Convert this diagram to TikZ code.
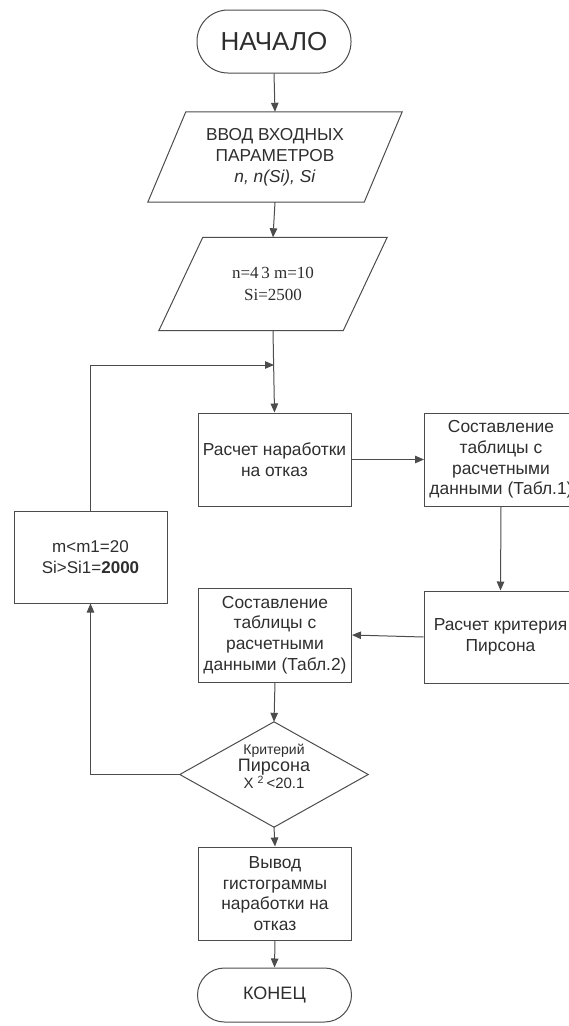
\documentclass[tikz,border=0pt]{standalone}
\usepackage{fontspec}
\setmainfont{Liberation Sans}
\newfontfamily\numserif{Liberation Serif}
\usetikzlibrary{arrows.meta,calc}
\definecolor{linec}{gray}{0.30}
\definecolor{textc}{gray}{0.18}
\begin{document}
\begin{tikzpicture}[x=1pt,y=-1pt,
  every node/.style={text=textc},
  stepbox/.style={draw=linec, line width=1pt, rectangle, minimum width=153pt,
    minimum height=93pt, align=center, inner sep=1pt,
    font=\fontsize{17.4}{20.8}\selectfont},
  termbox/.style={draw=linec, line width=1pt, rectangle, minimum width=154pt,
    align=center, inner sep=0pt},
  iobody/.style={rectangle, inner sep=0pt, align=center},
  slanted/.style={draw=linec, line width=1pt},
  conn/.style={draw=linec, line width=1pt, -{Triangle[length=9pt,width=7.5pt]}}]

\useasboundingbox (0,0) rectangle (569,1026);

% terminals
\node[termbox, minimum height=63pt, rounded corners=31pt,
      font=\fontsize{26}{28}\selectfont] (start) at (274,41.5) {НАЧАЛО};
\node[termbox, minimum height=54pt, rounded corners=27pt,
      font=\fontsize{18}{20}\selectfont] (stop) at (274.5,995) {КОНЕЦ};

% input blocks (parallelograms drawn around their text bodies)
\node[iobody, minimum width=216pt, minimum height=90pt,
      font=\fontsize{17.3}{21}\selectfont] (in1) at (275,157)
      {ВВОД ВХОДНЫХ\\ПАРАМЕТРОВ\\\textit{n, n(Si), Si}};
\draw[slanted] ([xshift=19pt]in1.north west) -- ([xshift=19pt]in1.north east)
  -- ([xshift=-19pt]in1.south east) -- ([xshift=-19pt]in1.south west) -- cycle;

\node[iobody, minimum width=184pt, minimum height=93pt,
      font=\numserif\fontsize{17}{22}\selectfont] (in2) at (273,284)
      {n=4\,3 m=10\\Si=2500};
\draw[slanted] ([xshift=22pt]in2.north west) -- ([xshift=22pt]in2.north east)
  -- ([xshift=-22pt]in2.south east) -- ([xshift=-22pt]in2.south west) -- cycle;

% process blocks
\node[stepbox] (calc) at (274.5,459.5) {Расчет наработки\\на отказ};
\node[stepbox] (tab1) at (501,459.5) {Составление\\таблицы с\\расчетными\\данными (Табл.1)};
\node[stepbox, minimum height=92pt] (pear) at (500.5,637) {Расчет критерия\\Пирсона};
\node[stepbox, minimum height=94pt] (tab2) at (275,635) {Составление\\таблицы с\\расчетными\\данными (Табл.2)};
\node[stepbox, minimum height=92pt, font=\fontsize{17}{21}\selectfont] (mbox) at (90.5,557)
      {m<m1=20\\Si>Si1=\textbf{2000}};
\node[stepbox, minimum height=93pt] (hist) at (275,893.5)
      {Вывод\\гистограммы\\наработки на\\отказ};

% decision
\node[rectangle, minimum width=188pt, minimum height=105pt, inner sep=0pt] (dec) at (274,774.5) {};
\draw[slanted] (dec.north) -- (dec.east) -- (dec.south) -- (dec.west) -- cycle;
\node[align=center, inner sep=0pt, anchor=center] (dectext) at ([yshift=8pt]dec.center)
  {{\fontsize{14}{14}\selectfont Критерий}\\[1pt]
   {\fontsize{18}{18}\selectfont Пирсона}\\[0pt]
   {\fontsize{15}{15}\selectfont X \textsuperscript{2}\,<20.1}};

% loop joint on the main line
\coordinate (join) at (274,365);

% connectors
\draw[conn] (start.south) -- (in1.north);
\draw[conn] (in1.south) -- (in2.north);
\draw[conn] (in2.south) -- (calc.north);
\draw[conn] (mbox.north) |- (join);
\draw[conn] (calc.east) -- (tab1.west);
\draw[conn] (tab1.south) -- (pear.north);
\draw[conn] (pear.west) -- (tab2.east);
\draw[conn] (tab2.south) -- (dec.north);
\draw[conn] (dec.west) -| (mbox.south);
\draw[conn] (dec.south) -- (hist.north);
\draw[conn] (hist.south) -- (stop.north);

\end{tikzpicture}
\end{document}
